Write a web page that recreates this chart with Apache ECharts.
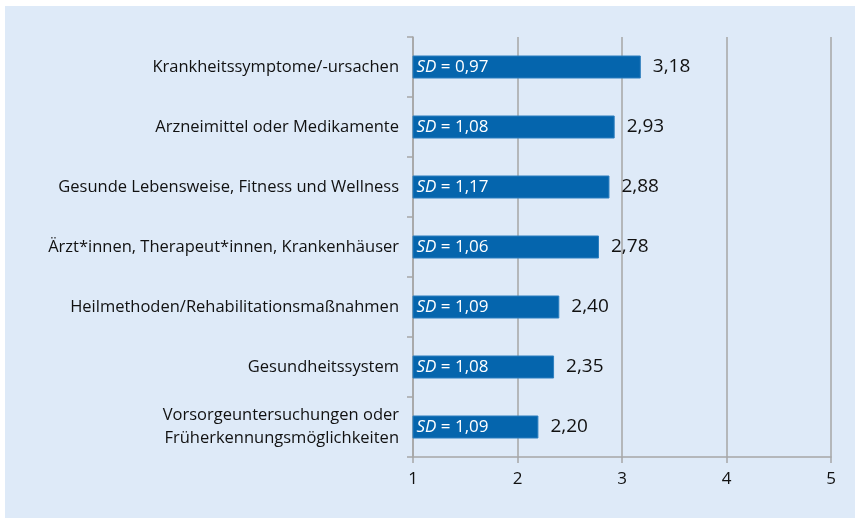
<!DOCTYPE html>
<html>
<head>
<meta charset="utf-8">
<script src="https://cdn.jsdelivr.net/npm/echarts@6/dist/echarts.min.js"></script>
<style>
  html, body { margin: 0; padding: 0; background: #fff; }
  #chart { position: absolute; left: 5px; top: 6px; width: 850px; height: 512px; background: #deeaf8; }
</style>
</head>
<body>
<div id="chart"></div>
<script>
const categories = [
  'Krankheitssymptome/-ursachen',
  'Arzneimittel oder Medikamente',
  'Gesunde Lebensweise, Fitness und Wellness',
  'Ärzt*innen, Therapeut*innen, Krankenhäuser',
  'Heilmethoden/Rehabilitationsmaßnahmen',
  'Gesundheitssystem',
  'Vorsorgeuntersuchungen oder\nFrüherkennungsmöglichkeiten'
]
const means = [3.18, 2.93, 2.88, 2.78, 2.40, 2.35, 2.20]
const sds = [0.97, 1.08, 1.17, 1.06, 1.09, 1.08, 1.09]

const de = v => v.toFixed(2).replace('.', ',')
const axisGray = '#a6a6a6'
const textColor = '#111'

const chart = echarts.init(document.getElementById('chart'))
chart.setOption({
  textStyle: { fontFamily: 'Open Sans' },
  grid: { left: 408, right: 24, top: 31, bottom: 61 },
  xAxis: {
    type: 'value',
    min: 1,
    max: 5,
    interval: 1,
    axisLine: { show: true, lineStyle: { color: axisGray, width: 1.5 } },
    axisTick: { show: true, length: 6, lineStyle: { color: axisGray, width: 1.5 } },
    axisLabel: { color: textColor, fontSize: 17, margin: 14 },
    splitLine: { lineStyle: { color: axisGray, width: 1.5 } }
  },
  yAxis: {
    type: 'category',
    inverse: true,
    data: categories,
    axisLine: { lineStyle: { color: axisGray, width: 1.5 } },
    axisTick: { show: true, length: 6, lineStyle: { color: axisGray, width: 1.5 } },
    axisLabel: { color: textColor, fontSize: 16.5, margin: 14, lineHeight: 23, align: 'right' }
  },
  series: [{
    type: 'bar',
    data: means,
    barWidth: 23,
    itemStyle: { color: '#0565ad', borderColor: '#2d7fbf', borderWidth: 1 },
    label: {
      show: true,
      position: 'insideLeft',
      distance: 4,
      color: '#fff',
      fontSize: 17,
      formatter: p => '{i|SD} = ' + de(sds[p.dataIndex]),
      rich: { i: { fontStyle: 'italic', color: '#fff', fontSize: 17 } }
    },
    silent: true
  }, {
    type: 'bar',
    data: means,
    barWidth: 23,
    barGap: '-100%',
    itemStyle: { color: 'transparent' },
    label: {
      show: true,
      position: 'right',
      distance: 12,
      color: textColor,
      fontSize: 19,
      formatter: p => de(p.value)
    },
    silent: true
  }]
})
</script>
</body>
</html>
